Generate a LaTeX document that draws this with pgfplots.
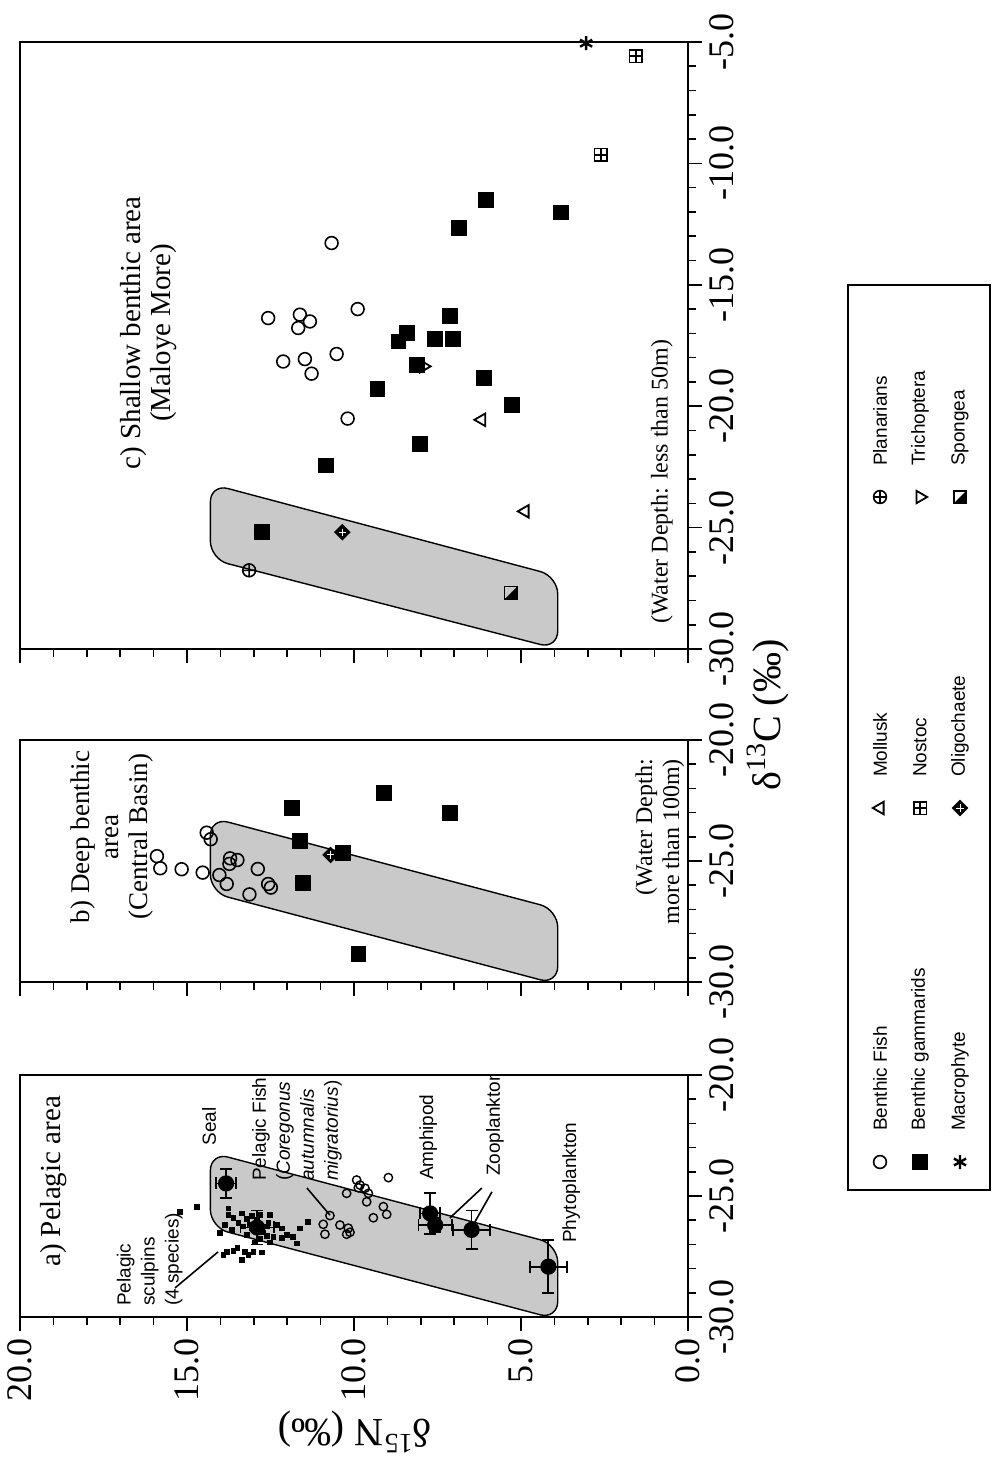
\documentclass[border=0pt]{standalone}
\usepackage{fontspec}
\setmainfont{Liberation Serif}
\setsansfont{Liberation Sans}
\usepackage{pgfplots}
\pgfplotsset{compat=1.18}
\usetikzlibrary{plotmarks}

\pgfdeclareplotmark{sqplus}{%
  \pgfpathrectangle{\pgfqpoint{-\pgfplotmarksize}{-\pgfplotmarksize}}{\pgfqpoint{2\pgfplotmarksize}{2\pgfplotmarksize}}%
  \pgfpathmoveto{\pgfqpoint{-\pgfplotmarksize}{0pt}}\pgfpathlineto{\pgfqpoint{\pgfplotmarksize}{0pt}}%
  \pgfpathmoveto{\pgfqpoint{0pt}{-\pgfplotmarksize}}\pgfpathlineto{\pgfqpoint{0pt}{\pgfplotmarksize}}%
  \pgfusepathqstroke}
\pgfdeclareplotmark{halfsq}{%
  \pgfpathmoveto{\pgfqpoint{-\pgfplotmarksize}{-\pgfplotmarksize}}%
  \pgfpathlineto{\pgfqpoint{\pgfplotmarksize}{-\pgfplotmarksize}}%
  \pgfpathlineto{\pgfqpoint{\pgfplotmarksize}{\pgfplotmarksize}}%
  \pgfpathclose\pgfusepathqfill
  \pgfpathrectangle{\pgfqpoint{-\pgfplotmarksize}{-\pgfplotmarksize}}{\pgfqpoint{2\pgfplotmarksize}{2\pgfplotmarksize}}%
  \pgfusepathqstroke}
\pgfdeclareplotmark{dplus}{%
  \pgfpathmoveto{\pgfqpoint{0pt}{\pgfplotmarksize}}%
  \pgfpathlineto{\pgfqpoint{\pgfplotmarksize}{0pt}}%
  \pgfpathlineto{\pgfqpoint{0pt}{-\pgfplotmarksize}}%
  \pgfpathlineto{\pgfqpoint{-\pgfplotmarksize}{0pt}}%
  \pgfpathclose\pgfusepathqfillstroke
  \pgfscope\pgfsetstrokecolor{white}\pgfsetlinewidth{0.5pt}%
  \pgfpathmoveto{\pgfqpoint{-0.5\pgfplotmarksize}{0pt}}\pgfpathlineto{\pgfqpoint{0.5\pgfplotmarksize}{0pt}}%
  \pgfpathmoveto{\pgfqpoint{0pt}{-0.5\pgfplotmarksize}}\pgfpathlineto{\pgfqpoint{0pt}{0.5\pgfplotmarksize}}%
  \pgfusepathqstroke\endpgfscope}

\newcommand\tickfont{\fontsize{18}{20}\selectfont}
\newcommand\annfont{\sffamily\fontsize{9.5}{12}\selectfont}
\newcommand\legfont{\sffamily\fontsize{9.5}{12}\selectfont}

\pgfplotsset{
  panel/.style={
    scale only axis, width=334pt,
    xmin=0, xmax=20, x dir=reverse,
    xtick={0,5,10,15,20}, minor x tick num=4,
    tick align=outside, xtick pos=left, ytick pos=right, yticklabel pos=right,
    major tick length=7pt, minor tick length=4pt,
    every tick/.style={black, line width=0.8pt},
    axis line style={line width=1pt},
    minor y tick num=4,
    /pgf/number format/fixed, /pgf/number format/fixed zerofill,
    /pgf/number format/precision=1, /pgf/number format/assume math mode=true,
    xticklabel style={rotate=90, anchor=east, font=\tickfont},
    yticklabel style={rotate=90, anchor=north, font=\tickfont},
  },
  band/.style={draw=black, line width=0.7pt, fill=gray!42, rounded corners=9pt, forget plot},
}

\begin{document}
\begin{tikzpicture}

% ---------------- panel c ----------------
\begin{axis}[panel, at={(10pt,404.5pt)}, anchor=south west, height=303.5pt,
  ymin=-30, ymax=-5, ytick={-30,-25,-20,-15,-10,-5}, xticklabels={}, clip=false]
\addplot[band] coordinates {(14.3,-23.2) (3.9,-27.0) (3.9,-30.0) (14.3,-26.3)} -- cycle;
\addplot[only marks, mark=o, mark size=3.2pt, line width=0.8pt] table {
x y
10.67 -13.28
12.57 -16.37
11.62 -16.23
11.32 -16.51
11.67 -16.78
9.89 -16.00
12.12 -18.16
11.47 -18.06
11.27 -18.66
10.52 -17.85
10.19 -20.51
};
\addplot[only marks, mark=triangle, mark size=3.6pt, line width=0.9pt, mark options={rotate=90}] table {
x y
6.18 -20.56
4.88 -24.33
};
\addplot[only marks, mark=oplus, mark size=3.2pt, line width=0.8pt] table {
x y
13.14 -26.76
};
\addplot[only marks, mark=square*, mark size=3.7pt] table {
x y
6.85 -12.67
6.05 -11.50
3.81 -12.02
7.13 -16.28
8.42 -16.99
8.67 -17.33
7.57 -17.23
7.03 -17.23
9.30 -19.28
8.12 -18.29
8.02 -21.54
10.84 -22.44
12.76 -25.18
6.10 -18.84
5.28 -19.94
};
\addplot[only marks, mark=sqplus, mark size=3.2pt, line width=0.9pt] table {
x y
1.56 -5.58
2.61 -9.65
};
\addplot[only marks, mark=triangle, mark size=3.6pt, line width=0.9pt, mark options={rotate=-90}] table {
x y
7.92 -18.36
};
\addplot[only marks, mark=asterisk, mark size=3.5pt, line width=1.2pt] table {
x y
3.05 -5.05
};
\addplot[only marks, mark=dplus, mark size=3.6pt, line width=0.8pt] table {
x y
10.35 -25.19
};
\addplot[only marks, mark=halfsq, mark size=3.2pt, line width=0.9pt] table {
x y
5.30 -27.69
};
\node[rotate=90, align=center, font=\fontsize{14.5}{15}\selectfont] at (axis cs:16.15,-16.98) {c) Shallow benthic area\\(Maloye More)};
\node[rotate=90, anchor=east, font=\fontsize{12}{14}\selectfont] at (axis cs:0.78,-16.98) {(Water Depth: less than 50m)};
\end{axis}

% ---------------- panel b ----------------
\begin{axis}[panel, at={(10pt,238pt)}, anchor=south west, height=121pt,
  ymin=-30, ymax=-20, ytick={-30,-25,-20}, xticklabels={}]
\addplot[band] coordinates {(14.3,-23.2) (3.9,-27.0) (3.9,-30.1) (14.3,-26.3)} -- cycle;
\addplot[only marks, mark=o, mark size=3.2pt, line width=0.8pt] table {
x y
14.41 -23.83
14.29 -24.10
13.71 -24.89
13.49 -24.96
13.73 -25.12
15.16 -25.34
14.53 -25.48
14.03 -25.58
13.81 -25.95
12.88 -25.33
12.57 -25.95
12.49 -26.10
13.13 -26.38
15.90 -24.80
15.80 -25.30
};
\addplot[only marks, mark=square*, mark size=3.7pt] table {
x y
11.87 -22.82
9.10 -22.20
7.13 -23.00
11.62 -24.17
10.34 -24.68
11.54 -25.92
9.87 -28.84
};
\addplot[only marks, mark=dplus, mark size=3.6pt, line width=0.8pt] table {
x y
10.70 -24.75
};
\node[rotate=90, align=center, font=\fontsize{13.5}{14.5}\selectfont] at (axis cs:17.25,-24.0) {b) Deep benthic\\area\\(Central Basin)};
\node[rotate=90, anchor=east, align=right, font=\fontsize{12}{13.5}\selectfont] at (axis cs:0.84,-20.5) {(Water Depth:\\more than 100m)};
\end{axis}

% ---------------- panel a ----------------
\begin{axis}[panel, at={(10pt,70.5pt)}, anchor=south west, height=121pt,
  ymin=-30, ymax=-20, ytick={-30,-25,-20}]
\addplot[band] coordinates {(14.3,-23.2) (3.9,-27.0) (3.9,-30.1) (14.3,-26.3)} -- cycle;
% pelagic sculpins
\addplot[only marks, mark=square*, mark size=1.2pt] table {
x y
15.21 -25.65
14.71 -25.44
13.76 -25.79
13.61 -25.92
13.36 -25.72
13.21 -25.95
13.06 -25.82
12.91 -26.00
12.81 -25.79
12.51 -25.79
13.86 -26.20
14.01 -26.54
13.81 -27.30
13.91 -27.44
13.61 -27.27
13.49 -27.16
13.36 -27.64
13.26 -27.30
13.16 -27.44
13.01 -27.30
12.76 -27.33
12.31 -26.20
12.16 -26.34
12.02 -26.61
11.82 -26.68
11.72 -26.96
11.62 -26.34
11.37 -26.06
13.06 -26.34
12.91 -26.40
12.71 -26.50
12.61 -26.64
12.81 -26.78
12.96 -26.92
13.21 -26.61
13.31 -26.26
12.61 -26.26
12.51 -26.92
12.41 -26.68
13.76 -25.51
13.66 -26.40
13.46 -26.12
12.16 -26.73
12.56 -26.12
13.11 -26.20
};
% pelagic fish
\addplot[only marks, mark=o, mark size=2.1pt, line width=0.7pt] table {
x y
10.72 -25.81
10.92 -26.17
10.87 -26.58
10.42 -26.20
10.22 -26.58
10.12 -26.50
10.17 -26.33
10.22 -24.89
9.92 -24.34
9.82 -24.55
9.67 -24.68
9.57 -24.89
9.62 -25.24
9.87 -24.66
8.97 -24.24
9.42 -25.90
9.02 -25.76
9.12 -25.44
};
% means with error bars
\addplot[only marks, mark=*, mark size=3.6pt, line width=0.9pt,
  error bars/.cd, x dir=both, x explicit, y dir=both, y explicit,
  error bar style={line width=0.9pt}, error mark options={rotate=90, mark size=3pt, line width=0.9pt}]
  table[x=x, y=y, x error=ex, y error=ey] {
x y ex ey
13.83 -24.48 0.30 0.60
12.90 -26.30 0.50 0.70
7.72 -25.72 0.30 0.85
7.57 -26.20 0.50 0.30
6.48 -26.40 0.55 0.80
4.18 -27.92 0.55 1.10
};
\node[rotate=90, font=\fontsize{14.5}{17}\selectfont] at (axis cs:19.0,-24.4) {a) Pelagic area};
\node[rotate=90, anchor=north west, align=left, font=\annfont] at (axis cs:17.31,-29.83) {Pelagic\\sculpins\\(4 species)};
\draw[line width=0.8pt] (axis cs:15.36,-28.80) -- (axis cs:14.07,-27.31);
\node[rotate=90, anchor=west, font=\annfont] at (axis cs:14.34,-23.2) {Seal};
\node[rotate=90, anchor=north west, align=left, font=\annfont] at (axis cs:13.26,-24.67) {Pelagic Fish\\(\textit{Coregonus}\\\textit{autumnalis}\\\textit{migratorius})};
\draw[line width=0.8pt] (axis cs:11.41,-24.67) -- (axis cs:10.72,-25.79);
\node[rotate=90, anchor=west, font=\annfont] at (axis cs:7.78,-24.63) {Amphipod};
\node[rotate=90, anchor=west, font=\annfont] at (axis cs:5.78,-24.46) {Zooplankton};
\draw[line width=0.8pt] (axis cs:6.17,-24.67) -- (axis cs:7.13,-25.91);
\draw[line width=0.8pt] (axis cs:5.87,-24.83) -- (axis cs:6.38,-26.07);
\node[rotate=90, anchor=west, font=\annfont] at (axis cs:3.50,-27.23) {Phytoplankton};
\end{axis}

% ---------------- legend (drawn as its own small axis, pixel units) ----------------
\begin{axis}[at={(424pt,134pt)}, anchor=south west, scale only axis,
  width=71pt, height=452.5pt, xmin=848, xmax=990, ymin=285, ymax=1190, y dir=reverse,
  xtick=\empty, ytick=\empty, axis line style={line width=0.8pt}, clip=false]
\addplot[only marks, mark=o, mark size=3.2pt, line width=0.8pt] coordinates {(880,1162)};
\addplot[only marks, mark=square*, mark size=3.7pt] coordinates {(920,1162)};
\addplot[only marks, mark=asterisk, mark size=3.5pt, line width=1.2pt] coordinates {(960,1162)};
\addplot[only marks, mark=triangle, mark size=3.6pt, line width=0.9pt, mark options={rotate=90}] coordinates {(880,808)};
\addplot[only marks, mark=sqplus, mark size=3.2pt, line width=0.9pt] coordinates {(920,808)};
\addplot[only marks, mark=dplus, mark size=3.6pt, line width=0.8pt] coordinates {(960,808)};
\addplot[only marks, mark=oplus, mark size=3.2pt, line width=0.8pt] coordinates {(880,497)};
\addplot[only marks, mark=triangle, mark size=3.6pt, line width=0.9pt, mark options={rotate=-90}] coordinates {(920,497)};
\addplot[only marks, mark=halfsq, mark size=3.2pt, line width=0.9pt] coordinates {(960,497)};
\node[rotate=90, anchor=west, font=\legfont] at (axis cs:880,1138) {Benthic Fish};
\node[rotate=90, anchor=west, font=\legfont] at (axis cs:920,1138) {Benthic gammarids};
\node[rotate=90, anchor=west, font=\legfont] at (axis cs:960,1138) {Macrophyte};
\node[rotate=90, anchor=west, font=\legfont] at (axis cs:880,784) {Mollusk};
\node[rotate=90, anchor=west, font=\legfont] at (axis cs:920,784) {Nostoc};
\node[rotate=90, anchor=west, font=\legfont] at (axis cs:960,784) {Oligochaete};
\node[rotate=90, anchor=west, font=\legfont] at (axis cs:880,473) {Planarians};
\node[rotate=90, anchor=west, font=\legfont] at (axis cs:920,473) {Trichoptera};
\node[rotate=90, anchor=west, font=\legfont] at (axis cs:960,473) {Spongea};
\end{axis}

% axis titles
\node[rotate=90, font=\fontsize{20}{24}\selectfont] at (384pt,371.5pt) {δ\textsuperscript{13}C (‰)};
\node[rotate=180, font=\fontsize{20}{24}\selectfont] at (177.5pt,13pt) {δ\textsuperscript{15}N (‰)};

\pgfresetboundingbox
\path[use as bounding box] (0pt,0pt) rectangle (497.5pt,729pt);
\end{tikzpicture}
\end{document}
